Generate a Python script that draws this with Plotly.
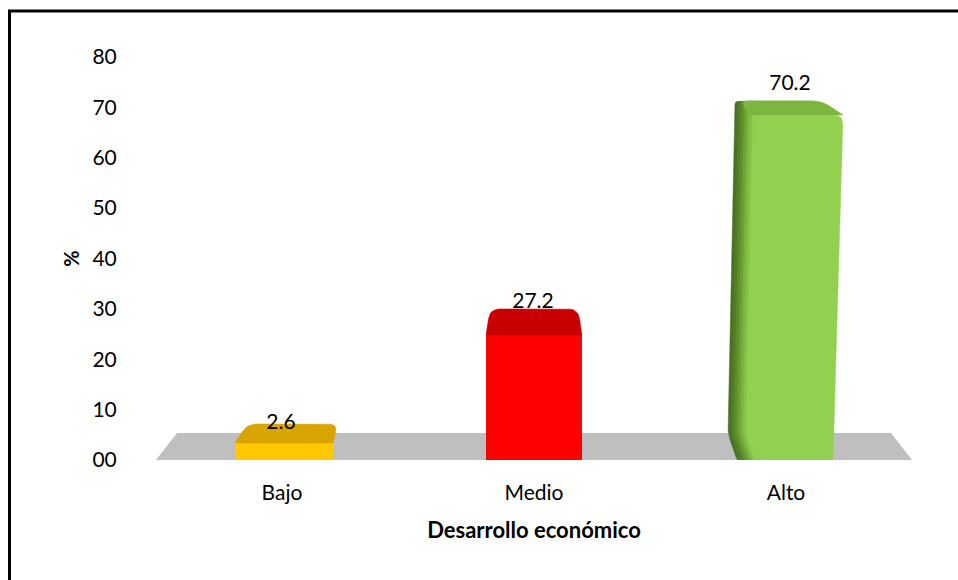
import math
import plotly.graph_objects as go

categories = ["Bajo", "Medio", "Alto"]
values = [2.6, 27.2, 70.2]
value_labels = ["2.6", "27.2", "70.2"]
y_ticks = [0, 10, 20, 30, 40, 50, 60, 70, 80]
y_tick_labels = ["00", "10", "20", "30", "40", "50", "60", "70", "80"]
x_title = "Desarrollo económico"
y_title = "%"

# --- layout geometry (pixels of the 958x580 page) ---
W, H = 958, 580
L, R, T, B = 156, 912, 57, 460
CAT = (R - L) / 3
PXV = (B - T) / 80


def dx(px):
    return px / CAT


def dv(px):
    return px / PXV


# --- pseudo-3D styling, expressed relative to each value ---
back_rise = [4.55, 2.8, 1.1]      # back edge of the top face above the value
front_drop = [0.77, -2.4, -1.7]   # front edge of the top face relative to the value
front_col = ["#ffc800", "#ff0000", "#92d050"]
top_col = ["#d8a500", "#c80000", "#7db63f"]
# top face corner offsets from the category centre (px): back l/r, front l/r
top_x = [(-35, 56, -47, 51), (-44, 44, -48, 48), (-46, 36, -36, 57)]
front_x = [(-47, 51), (-48, 48), (-36, 47)]
label_dx = [-1, -1, 4]
label_rise = [4.5, 4.1, 4.2]
green_steps = ["#4a7226", "#527e28", "#5e8e2c", "#6c9f34", "#7bb33e", "#87c348", "#92d050"]

fig = go.Figure()

# floor
fig.add_shape(type="path", xref="x", yref="y", layer="below", line_width=0,
              fillcolor="#bfbfbf",
              path=f"M -0.5 0 L 2.5 0 L {2.5 - dx(21)} {dv(27)} L {-0.5 + dx(21)} {dv(27)} Z")


def rounded(pts, radii, n=6):
    """Round polygon corners; pts are (x data, y data), radii in pixels."""
    out = []
    m = len(pts)
    for k in range(m):
        px, py = pts[k][0] * CAT, pts[k][1] * PXV
        ax, ay = pts[k - 1][0] * CAT, pts[k - 1][1] * PXV
        bx, by = pts[(k + 1) % m][0] * CAT, pts[(k + 1) % m][1] * PXV
        la, lb = math.hypot(ax - px, ay - py), math.hypot(bx - px, by - py)
        r = min(radii[k], la / 2, lb / 2)
        for j in range(n + 1):
            t = j / n
            sx, sy = px + (ax - px) * r / la, py + (ay - py) * r / la
            ex, ey = px + (bx - px) * r / lb, py + (by - py) * r / lb
            qx = (1 - t) ** 2 * sx + 2 * t * (1 - t) * px + t ** 2 * ex
            qy = (1 - t) ** 2 * sy + 2 * t * (1 - t) * py + t ** 2 * ey
            out.append((qx / CAT, qy / PXV))
    return out


def poly(pts, radii, color):
    p = rounded(pts, radii)
    p.append(p[0])
    fig.add_trace(go.Scatter(x=[a for a, _ in p], y=[b for _, b in p], mode="lines", fill="toself",
                             fillcolor=color, line=dict(color=color, width=0.5),
                             hoverinfo="skip", showlegend=False))


# green bar: shaded left side and lean of the right edge
i, v = 2, values[2]
ftop = v + front_drop[2]
for k, col in enumerate(green_steps):
    a = 3 * k
    right = -28 if k == len(green_steps) - 1 else -51 + a + 6
    poly([(i + dx(-51 + a), v + dv(5)), (i + dx(right), v + dv(5)), (i + dx(right), 0),
          (i + dx(-49 + a), 0), (i + dx(-58 + a), dv(26))],
         [9, 0, 0, 7, 6], col)
poly([(i + dx(30), ftop), (i + dx(57), ftop), (i + dx(47), 0), (i + dx(30), 0)],
     [0, 10, 7, 0], front_col[2])

# top faces
for i, v in enumerate(values):
    bl, br, fl, fr = top_x[i]
    poly([(i + dx(bl), v + back_rise[i]), (i + dx(br), v + back_rise[i]),
          (i + dx(fr), v + front_drop[i]), (i + dx(fl), v + front_drop[i])],
         [10, 10, 0, 0], top_col[i])

# front faces
fig.add_trace(go.Bar(
    x=[0, 1, 2],
    y=[v + d for v, d in zip(values, front_drop)],
    width=[dx(f[1] - f[0]) for f in front_x],
    offset=[dx(f[0]) for f in front_x],
    marker=dict(color=front_col, line_width=0),
    hoverinfo="skip", showlegend=False))

# value labels
fig.add_trace(go.Scatter(
    x=[i + dx(d) for i, d in enumerate(label_dx)],
    y=[v + r for v, r in zip(values, label_rise)],
    mode="text", text=value_labels, textposition="middle center",
    textfont=dict(family="Lato", size=21, color="#000000"),
    hoverinfo="skip", showlegend=False))

# outer frame
fig.add_shape(type="rect", xref="paper", yref="paper", layer="above",
              x0=(9.5 - L) / (R - L), x1=(W + 20 - L) / (R - L),
              y0=(B - H - 20) / (B - T), y1=(B - 11) / (B - T),
              line=dict(color="#000000", width=3), fillcolor="rgba(0,0,0,0)")

fig.update_layout(
    width=W, height=H, barmode="overlay", showlegend=False,
    margin=dict(l=L, r=W - R, t=T, b=H - B, autoexpand=False),
    paper_bgcolor="#ffffff", plot_bgcolor="rgba(0,0,0,0)",
    font=dict(family="Lato", size=21, color="#000000"),
    xaxis=dict(range=[-0.5, 2.5], tickmode="array", tickvals=[0, 1, 2], ticktext=categories,
               showgrid=False, zeroline=False, showline=False,
               ticks="outside", ticklen=14, tickcolor="rgba(0,0,0,0)",
               title=dict(text=f"<b>{x_title}</b>", font=dict(family="Lato", size=22), standoff=19)),
    yaxis=dict(range=[0, 80], tickmode="array", tickvals=y_ticks, ticktext=y_tick_labels,
               showgrid=False, zeroline=False, showline=False,
               ticks="outside", ticklen=34, tickcolor="rgba(0,0,0,0)",
               title=dict(text=f"<b>{y_title}</b>", font=dict(family="Lato", size=20), standoff=7)),
)

fig.write_html("out.html", config={"displayModeBar": False},
               post_script="document.body.style.margin='0';document.documentElement.style.overflow='hidden';")
